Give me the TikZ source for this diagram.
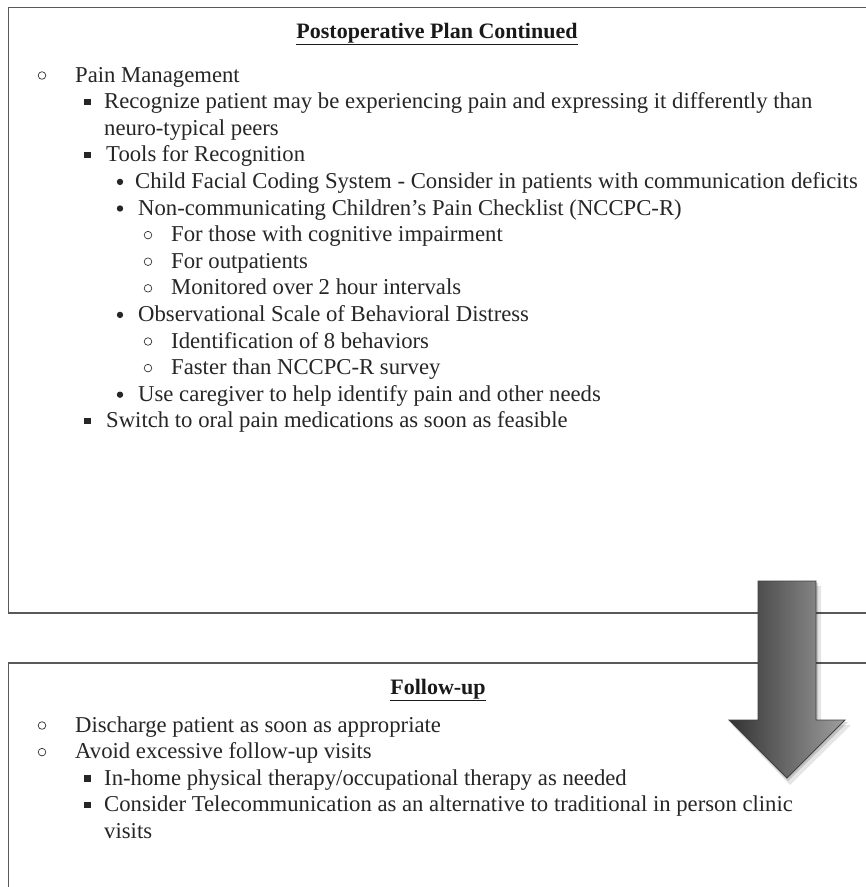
\documentclass[tikz,border=0pt]{standalone}
\usepackage{fontspec}
\setmainfont{Liberation Serif}
\begin{document}
\begin{tikzpicture}[x=1pt,y=-1pt,
  txt/.style={anchor=base west, inner sep=0pt, font=\fontsize{22.7}{27}\selectfont, text=black!85},
  ttl/.style={anchor=base, inner sep=0pt, font=\fontsize{22}{26}\selectfont\bfseries, text=black!90},
  boxline/.style={line width=1.5pt, draw=black!65},
  obul/.style={draw=black!80, line width=0.7pt},
  sbul/.style={fill=black!85},
  dbul/.style={fill=black!85}]
\useasboundingbox (0,0) rectangle (866,887);
\fill[white] (0,0) rectangle (866,887);
% boxes
\draw[boxline] (866,7.5) -- (8.5,7.5) -- (8.5,613) -- (866,613);
\draw[boxline] (866,663) -- (8.5,663) -- (8.5,887);
% top box
\node[ttl] (t1) at (437,38) {\underline{Postoperative Plan Continued}};
\node[txt] (a1) at (75,82) {Pain Management};
\node[txt] (a2) at (104,108.6) {Recognize patient may be experiencing pain and expressing it differently than};
\node[txt] (a3) at (104,135.2) {neuro-typical peers};
\node[txt] (a4) at (106,161.8) {Tools for Recognition};
\node[txt] (a5) at (135,188.4) {Child Facial Coding System - Consider in patients with communication deficits};
\node[txt] (a6) at (138,215) {Non-communicating Children’s Pain Checklist (NCCPC-R)};
\node[txt] (a7) at (171,241.6) {For those with cognitive impairment};
\node[txt] (a8) at (171,268.2) {For outpatients};
\node[txt] (a9) at (171,294.8) {Monitored over 2 hour intervals};
\node[txt] (a10) at (138,321.4) {Observational Scale of Behavioral Distress};
\node[txt] (a11) at (171,348) {Identification of 8 behaviors};
\node[txt] (a12) at (171,374.6) {Faster than NCCPC-R survey};
\node[txt] (a13) at (138,401.2) {Use caregiver to help identify pain and other needs};
\node[txt] (a14) at (106,427.8) {Switch to oral pain medications as soon as feasible};
% bullets top
\draw[obul] (42,75.5) circle (3.8);
\fill[sbul] (84,98.6) rectangle (90.5,105.1);
\fill[sbul] (84,151.8) rectangle (90.5,158.3);
\fill[dbul] (120,181.9) circle (3.2);
\fill[dbul] (120,208.5) circle (3.2);
\draw[obul] (148,235.1) circle (3.8);
\draw[obul] (148,261.7) circle (3.8);
\draw[obul] (148,288.3) circle (3.8);
\fill[dbul] (120,314.9) circle (3.2);
\draw[obul] (148,341.5) circle (3.8);
\draw[obul] (148,368.1) circle (3.8);
\fill[dbul] (120,394.7) circle (3.2);
\fill[sbul] (84,417.8) rectangle (90.5,424.3);
% bottom box
\node[ttl] (t2) at (438,694) {\underline{Follow-up}};
\node[txt] (b1) at (75,732) {Discharge patient as soon as appropriate};
\node[txt] (b2) at (75,758.6) {Avoid excessive follow-up visits};
\node[txt] (b3) at (104,785.2) {In-home physical therapy/occupational therapy as needed};
\node[txt] (b4) at (104,811.8) {Consider Telecommunication as an alternative to traditional in person clinic};
\node[txt] (b5) at (104,838.4) {visits};
\draw[obul] (42,725.5) circle (3.8);
\draw[obul] (42,752.1) circle (3.8);
\fill[sbul] (84,775.2) rectangle (90.5,781.7);
\fill[sbul] (84,801.8) rectangle (90.5,808.3);
% arrow with soft shadow
\fill[black, opacity=0.10] (762,586) -- (821,586) -- (821,725) -- (851,725) -- (790,785) -- (732,725) -- (762,725) -- cycle;
\fill[black, opacity=0.15] (760,583) -- (818,583) -- (818,722) -- (848,722) -- (788,781) -- (731,722) -- (760,722) -- cycle;
\shade[left color=black!80, right color=black!38, draw=black!75, line width=0.8pt]
  (758,581) -- (816,581) -- (816,720) -- (845,720) -- (787,778) -- (729,720) -- (758,720) -- cycle;
\end{tikzpicture}
\end{document}
